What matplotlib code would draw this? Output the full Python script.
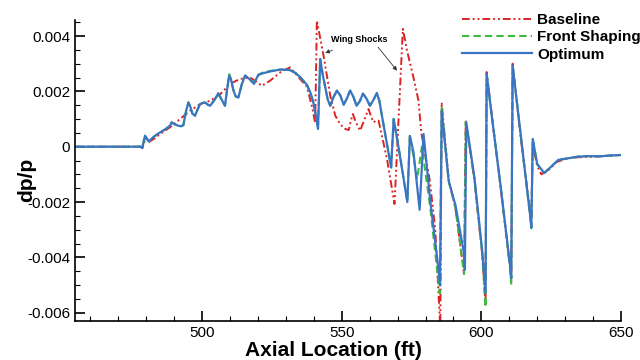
import matplotlib
matplotlib.use("Agg")
import matplotlib.pyplot as plt
from matplotlib.ticker import MultipleLocator, FuncFormatter

plt.rcParams['font.family'] = ['Liberation Sans', 'DejaVu Sans']

# Optimum (blue), dp/p in units of 1e-3
x_opt = [455, 478.0, 478.6, 479.2, 479.6, 480.2, 481.0, 482.0, 483.0, 485.0, 487.0, 488.5,
         489.1, 490.0, 491.4, 492.5, 493.3, 494.3, 495.1, 495.8, 496.5, 497.5, 498.4, 499.3,
         500.2, 501.1, 502.0, 502.9, 504.5, 505.8, 506.9, 508.2, 509.0, 509.7, 510.3, 511.2,
         512.0, 513.0, 514.2, 515.4, 516.9, 518.6, 519.4, 520.2, 522.0, 524.4, 528.0, 531.5,
         533.5, 535.1, 537.5, 538.8, 539.9, 540.8, 541.5, 542.3, 543.2, 544.0, 545.0, 545.9,
         547.1, 548.3, 549.5, 550.7, 551.9, 553.0, 554.2, 555.3, 556.5, 557.6, 558.8, 560.1,
         561.4, 562.6, 563.5, 564.4, 567.7, 568.6, 570.4, 573.5, 574.4, 575.7, 577.9, 579.3,
         581.7, 584.5, 585.2, 585.8, 588.3, 590.1, 590.7, 593.7, 594.1, 594.6, 597.5, 600.3,
         601.5, 601.9, 603.5, 606.8, 610.3, 610.7, 611.2, 614.0, 617.6, 617.9, 618.4, 620.0,
         622.5, 624.7, 627.5, 631.0, 634.5, 638.0, 642.0, 646.0, 650.0]
y_opt = [0, 0, -0.05, 0.25, 0.40, 0.30, 0.19, 0.30, 0.38, 0.52, 0.64, 0.76,
         0.88, 0.82, 0.76, 0.74, 0.78, 1.30, 1.60, 1.45, 1.20, 1.12, 1.35, 1.54,
         1.58, 1.60, 1.52, 1.48, 1.70, 1.93, 1.72, 1.48, 2.10, 2.57, 2.45, 2.05,
         1.82, 1.78, 2.25, 2.57, 2.45, 2.27, 2.45, 2.60, 2.66, 2.72, 2.79, 2.77,
         2.66, 2.52, 2.24, 1.95, 1.58, 1.10, 0.64, 3.17, 2.60, 2.20, 1.70, 1.48,
         1.80, 2.03, 1.85, 1.52, 1.75, 2.03, 1.80, 1.48, 1.65, 1.92, 1.75, 1.48,
         1.70, 1.94, 1.65, 1.12, -0.75, 1.00, -0.05, -2.00, 0.38, -0.20, -2.28, 0.46,
         -1.95, -4.30, -5.00, 1.30, -1.23, -1.90, -2.10, -3.80, -4.45, 0.88, -1.10, -3.76,
         -5.30, 2.63, 1.30, -1.35, -4.30, -4.75, 2.93, 0.51, -2.60, -2.92, 0.28, -0.63,
         -0.95, -0.75, -0.48, -0.42, -0.36, -0.34, -0.35, -0.32, -0.30]

# Baseline (red)
x_base = [455, 478.0, 478.6, 479.8, 480.8, 483.0, 485.0, 488.5, 492.1, 495.7, 499.3, 502.9,
          506.5, 510.0, 513.6, 517.2, 519.5, 521.4, 524.4, 528.0, 531.5, 535.1, 537.5, 539.5,
          540.5, 541.1, 543.5, 545.9, 547.7, 549.5, 551.3, 552.5, 553.3, 554.0, 555.0, 556.6,
          558.0, 559.6, 560.5, 561.4, 562.3, 563.2, 566.2, 568.9, 571.9, 573.4, 575.7, 577.5,
          578.5, 581.5, 583.5, 585.3, 585.8, 588.3, 590.7, 593.8, 594.4, 597.5, 600.3, 601.5,
          601.9, 603.5, 606.8, 610.3, 610.7, 611.2, 614.0, 617.6, 617.9, 618.4, 620.0, 621.5,
          624.0, 627.0, 631.0, 635.0, 640.0, 645.0, 650.0]
y_base = [0, 0, -0.05, 0.30, 0.16, 0.30, 0.46, 0.70, 1.00, 1.30, 1.54, 1.66,
          1.90, 2.27, 2.45, 2.50, 2.35, 2.20, 2.39, 2.69, 2.87, 2.45, 2.17, 1.40,
          0.85, 4.56, 3.29, 1.84, 1.12, 0.80, 0.64, 0.60, 0.95, 1.18, 0.90, 0.58,
          0.95, 1.36, 1.10, 0.88, 0.95, 0.94, -0.44, -2.07, 4.26, 3.47, 2.50, 1.66,
          0.50, -1.20, -3.00, -6.60, 1.60, -1.20, -2.20, -4.60, 0.95, -1.20, -3.90, -5.70,
          2.70, 1.35, -1.40, -4.40, -4.90, 3.00, 0.40, -2.45, -2.60, 0.10, -0.70, -1.00,
          -0.85, -0.55, -0.42, -0.38, -0.36, -0.33, -0.30]

# Front Shaping (green)
x_front = [455, 478.0, 478.6, 479.2, 479.6, 480.2, 481.0, 482.0, 483.0, 485.0, 487.0, 488.5,
           489.1, 490.0, 491.4, 492.5, 493.3, 494.3, 495.1, 495.8, 496.5, 497.5, 498.4, 499.3,
           500.2, 501.1, 502.0, 502.9, 504.5, 505.8, 506.9, 508.2, 509.0, 509.7, 510.3, 511.2,
           512.0, 513.0, 514.2, 515.4, 516.9, 518.6, 519.4, 520.2, 522.0, 524.4, 528.0, 531.5,
           533.5, 535.1, 537.5, 538.8, 539.9, 540.8, 541.5, 542.3, 543.2, 544.0, 545.0, 545.9,
           547.1, 548.3, 549.5, 550.7, 551.9, 553.0, 554.2, 555.3, 556.5, 557.6, 558.8, 560.1,
           561.4, 562.6, 563.5, 564.4, 567.7, 568.6, 570.4, 573.5, 574.4, 577.0, 578.7, 581.7,
           585.1, 585.8, 588.3, 590.7, 593.8, 594.4, 597.5, 600.3, 601.5, 601.9, 603.5, 606.8,
           610.3, 610.7, 611.2, 614.0, 617.6, 617.9, 618.4, 620.0, 622.5, 624.7, 627.5, 631.0,
           634.5, 638.0, 642.0, 646.0, 650.0]
y_front = [0, 0, -0.05, 0.25, 0.40, 0.30, 0.19, 0.30, 0.38, 0.52, 0.64, 0.76,
           0.88, 0.82, 0.76, 0.74, 0.78, 1.30, 1.60, 1.45, 1.20, 1.12, 1.35, 1.54,
           1.58, 1.60, 1.52, 1.48, 1.70, 1.93, 1.72, 1.48, 2.10, 2.62, 2.45, 2.05,
           1.82, 1.78, 2.25, 2.57, 2.45, 2.30, 2.48, 2.60, 2.70, 2.74, 2.79, 2.77,
           2.66, 2.52, 2.24, 1.95, 1.58, 1.10, 0.64, 3.17, 2.60, 2.20, 1.70, 1.48,
           1.80, 2.03, 1.85, 1.52, 1.75, 2.03, 1.80, 1.48, 1.65, 1.92, 1.75, 1.48,
           1.70, 1.94, 1.65, 1.12, -0.75, 1.00, -0.05, -2.00, 0.45, -1.17, 0.00, -2.20,
           -5.30, 1.40, -1.25, -2.20, -4.60, 0.90, -1.15, -3.85, -5.80, 2.63, 1.30, -1.35,
           -4.40, -5.00, 2.93, 0.51, -2.65, -2.95, 0.28, -0.63, -0.95, -0.75, -0.48, -0.42,
           -0.36, -0.34, -0.35, -0.32, -0.30]

fig = plt.figure(figsize=(6.4, 3.6), dpi=100)
ax = fig.add_axes([75 / 640, 1 - 320.7 / 360, 546 / 640, 300.7 / 360])

s = 1e-3
ax.plot(x_base, [v * s for v in y_base], color='#dc2424', lw=1.4,
        linestyle=(0, (4, 1.5, 1, 1.5, 1, 1.5)), label='Baseline')
ax.plot(x_front, [v * s for v in y_front], color='#3dbb3d', lw=1.5,
        linestyle=(0, (3.5, 2)), label='Front Shaping')
ax.plot(x_opt, [v * s for v in y_opt], color='#3a74c4', lw=1.6, label='Optimum')

ax.set_xlim(454.5, 650)
ax.set_ylim(-0.00629, 0.00458)
ax.xaxis.set_major_locator(MultipleLocator(50))
ax.xaxis.set_minor_locator(MultipleLocator(10))
ax.yaxis.set_major_locator(MultipleLocator(0.002))
ax.yaxis.set_minor_locator(MultipleLocator(0.0005))
ax.yaxis.set_major_formatter(FuncFormatter(lambda v, p: '{:g}'.format(round(v, 4))))

for side in ['top', 'right']:
    ax.spines[side].set_visible(False)
for side in ['left', 'bottom']:
    ax.spines[side].set_linewidth(1.2)
ax.tick_params(which='major', direction='in', length=7, width=1.2, labelsize=11)
ax.tick_params(which='minor', direction='in', length=3.5, width=0.8)

ax.set_xlabel('Axial Location (ft)', fontsize=15, fontweight='bold')
ax.xaxis.set_label_coords(0.4725, -0.068)
ax.set_ylabel('dp/p', fontsize=15, fontweight='bold')
ax.yaxis.set_label_coords(-0.072, 0.468)

ax.annotate('Wing Shocks', xy=(544.1, 0.00339), xytext=(556.3, 0.00386),
            fontsize=6.5, fontweight='bold', ha='center', va='center',
            arrowprops=dict(arrowstyle='-|>', color='#333333', lw=0.6,
                            mutation_scale=6, shrinkA=6, shrinkB=0))
ax.annotate('', xy=(569.8, 0.00275), xytext=(563.0, 0.00360),
            arrowprops=dict(arrowstyle='-|>', color='#333333', lw=0.6,
                            mutation_scale=6, shrinkA=0, shrinkB=0))

leg = ax.legend(loc='upper left', bbox_to_anchor=(461.7 / 640, 1 - 13 / 360),
                bbox_transform=fig.transFigure, frameon=False, borderpad=0,
                borderaxespad=0, handlelength=4.6, handletextpad=0.35,
                labelspacing=0.22, prop={'weight': 'bold', 'size': 11})

fig.savefig('out.png', dpi=100)
